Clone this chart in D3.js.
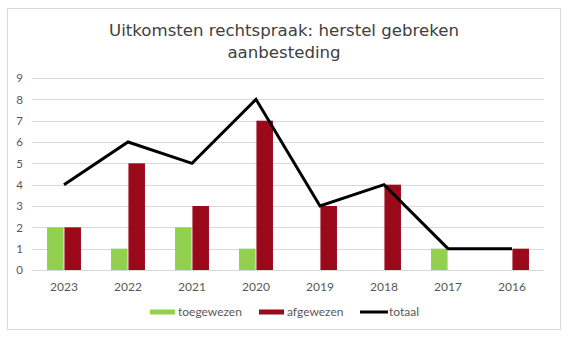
<!DOCTYPE html>
<html>
<head>
<meta charset="utf-8">
<script src="https://cdn.jsdelivr.net/npm/d3@7"></script>
<style>
  html, body { margin: 0; padding: 0; background: #fff; }
  svg { display: block; }
</style>
</head>
<body>
<svg id="chart" width="568" height="339"></svg>
<script>
const titleLines = ["Uitkomsten rechtspraak: herstel gebreken", "aanbesteding"];
const categories = ["2023", "2022", "2021", "2020", "2019", "2018", "2017", "2016"];
const toegewezen = [2, 1, 2, 1, 0, 0, 1, 0];
const afgewezen = [2, 5, 3, 7, 3, 4, 0, 1];
const totaal = [4, 6, 5, 8, 3, 4, 1, 1];
const yTicks = [0, 1, 2, 3, 4, 5, 6, 7, 8, 9];
const seriesNames = ["toegewezen", "afgewezen", "totaal"];
const colors = { toegewezen: "#92d050", afgewezen: "#9a0a1a", totaal: "#000000" };

const svg = d3.select("#chart");
const axisFont = "Lato, 'Open Sans', sans-serif";
const titleFont = "'DejaVu Sans', 'Noto Sans', sans-serif";

// outer border
svg.append("rect").attr("x", 7.5).attr("y", 8.5).attr("width", 553).attr("height", 321)
  .attr("fill", "#fff").attr("stroke", "#d9d9d9").attr("stroke-width", 1);

// title
const title = svg.append("text").attr("text-anchor", "middle")
  .attr("font-family", titleFont).attr("fill", "#404040").attr("font-size", 18);
title.selectAll("tspan").data(titleLines).join("tspan")
  .attr("x", 284).attr("y", (d, i) => 36 + i * 22).text(d => d);
// fit width of first line to reference
const w = title.select("tspan").node().getComputedTextLength();
title.attr("font-size", 18 * 350 / w);

const x0 = d3.scaleBand().domain(categories).range([32, 544]).paddingInner(0.47).paddingOuter(0.235);
const x1 = d3.scaleBand().domain(["toegewezen", "afgewezen"]).range([0, x0.bandwidth()]).paddingInner(0.05);
const y = d3.scaleLinear().domain([0, 9]).range([270, 78]);

// gridlines
svg.append("g").selectAll("line").data(yTicks.filter(t => t > 0)).join("line")
  .attr("x1", 32).attr("x2", 544)
  .attr("y1", d => Math.round(y(d)) + 0.5).attr("y2", d => Math.round(y(d)) + 0.5)
  .attr("stroke", "#d9d9d9").attr("stroke-width", 1);

// y axis labels
const yAxis = d3.axisLeft(y).tickValues(yTicks).tickSize(0).tickPadding(0);
const gy = svg.append("g").attr("transform", "translate(23,0)").call(yAxis);
gy.select(".domain").remove();
gy.selectAll("text").attr("font-family", axisFont).attr("font-size", 11.5).attr("fill", "#595959");

// bars
const groups = svg.append("g").selectAll("g").data(categories).join("g")
  .attr("transform", d => `translate(${x0(d)},0)`);
groups.selectAll("rect").data((d, i) => [
  { key: "toegewezen", v: toegewezen[i] },
  { key: "afgewezen", v: afgewezen[i] }
]).join("rect")
  .attr("x", d => x1(d.key)).attr("width", x1.bandwidth())
  .attr("y", d => y(d.v)).attr("height", d => y(0) - y(d.v))
  .attr("fill", d => colors[d.key]);

// baseline axis
const xAxis = d3.axisBottom(x0).tickSize(0).tickPadding(12);
const gx = svg.append("g").attr("transform", "translate(0,270)").call(xAxis);
gx.select(".domain").attr("stroke", "#d9d9d9").attr("d", "M32,0.5H544");
gx.selectAll("text").attr("font-family", axisFont).attr("font-size", 12).attr("fill", "#595959");

// total line
const line = d3.line().x((d, i) => x0(categories[i]) + x0.bandwidth() / 2).y(d => y(d));
svg.append("path").datum(totaal).attr("d", line)
  .attr("fill", "none").attr("stroke", colors.totaal).attr("stroke-width", 3)
  .attr("stroke-linejoin", "miter");

// legend
const legendItems = [
  { key: "toegewezen", sx: 150, tx: 178, type: "bar" },
  { key: "afgewezen", sx: 259, tx: 287, type: "bar" },
  { key: "totaal", sx: 360, tx: 389, type: "line" }
];
const lg = svg.append("g");
legendItems.forEach(it => {
  if (it.type === "bar") {
    lg.append("rect").attr("x", it.sx).attr("y", 309.5).attr("width", 25).attr("height", 5)
      .attr("fill", colors[it.key]);
  } else {
    lg.append("line").attr("x1", it.sx).attr("x2", it.sx + 28).attr("y1", 312).attr("y2", 312)
      .attr("stroke", colors[it.key]).attr("stroke-width", 3);
  }
  lg.append("text").attr("x", it.tx).attr("y", 316).text(it.key)
    .attr("font-family", axisFont).attr("font-size", 12).attr("fill", "#595959");
});
</script>
</body>
</html>
